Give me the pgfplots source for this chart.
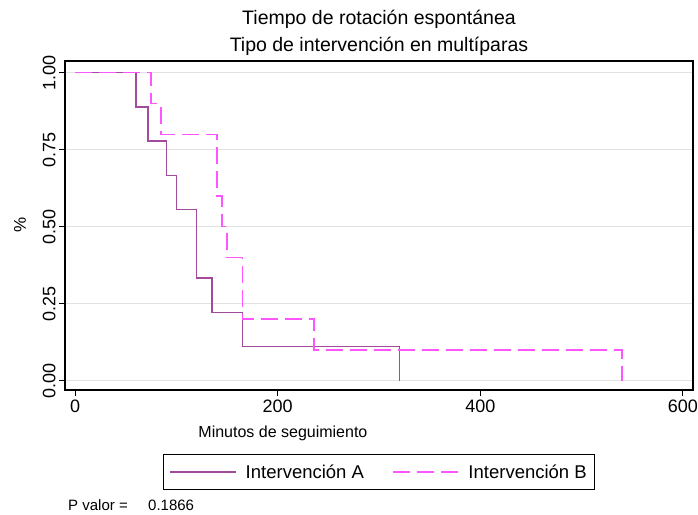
\documentclass[border=0pt]{standalone}
\usepackage{pgfplots}
\pgfplotsset{compat=1.18}
\usepackage{fontspec}
\setmainfont{Liberation Sans}
\definecolor{intA}{HTML}{A24A9C}
\definecolor{intB}{HTML}{FF55FF}
\definecolor{gridgray}{HTML}{E2E2E2}
\begin{document}
\begin{tikzpicture}
\path[use as bounding box] (0,0) rectangle (698pt,514pt);
\begin{axis}[
    at={(65pt,124pt)}, anchor=south west,
    scale only axis,
    width=628pt, height=329pt,
    xmin=-10, xmax=610,
    ymin=-0.03, ymax=1.038,
    xtick={0,200,400,600},
    ytick={0,0.25,0.5,0.75,1},
    yticklabel style={rotate=90, /pgf/number format/.cd, fixed, fixed zerofill, precision=2},
    /pgf/number format/assume math mode=true,
    tick label style={font=\fontsize{18}{20}\selectfont},
    xtick pos=bottom, ytick pos=left,
    tick align=outside,
    major tick length=6pt,
    tick style={black, line width=1pt},
    axis line style={black, line width=1.2pt},
    ymajorgrids,
    grid style={gridgray, line width=1pt},
    xlabel={Minutos de seguimiento},
    xlabel style={at={(0.347,0)}, anchor=center, yshift=-43pt, font=\fontsize{16}{18}\selectfont},
    legend columns=2,
    legend style={at={(0.5,0)}, anchor=north, yshift=-64pt,
        draw=black, line width=1pt, font=\fontsize{18.5}{20}\selectfont,
        inner xsep=6pt, inner ysep=8pt,
        /tikz/every odd column/.append style={column sep=7pt},
        /tikz/every even column/.append style={column sep=26pt}},
    legend image code/.code={\draw[#1, line width=1.5pt] (0pt,0pt) -- (66pt,0pt);},
    legend cell align=left,
]
\addplot[const plot, intA, line width=1.5pt] coordinates {
    (0,1) (60,0.8889) (72,0.7778) (90,0.6667) (100,0.5556)
    (120,0.3333) (135,0.2222) (165,0.1111) (320,0)};
\addlegendentry{Intervención A}
\addplot[const plot, intB, line width=1.5pt, dash pattern=on 17pt off 7pt] coordinates {
    (0,1) (75,0.9) (85,0.8) (140,0.6) (145,0.5) (150,0.4)
    (165,0.2) (236,0.1) (540,0)};
\addlegendentry{Intervención B}
\end{axis}
\node[rotate=90, font=\fontsize{17}{19}\selectfont] at (20pt,289pt) {\%};
\node[align=center, font=\fontsize{19.5}{27}\selectfont] at (379pt,481.5pt)
    {Tiempo de rotación espontánea\\Tipo de intervención en multíparas};
\node[anchor=base west, font=\fontsize{15}{17}\selectfont, inner sep=0pt] at (68pt,4pt) {P valor =};
\node[anchor=base west, font=\fontsize{15}{17}\selectfont, inner sep=0pt] at (148pt,4pt) {0.1866};
\end{tikzpicture}
\end{document}
